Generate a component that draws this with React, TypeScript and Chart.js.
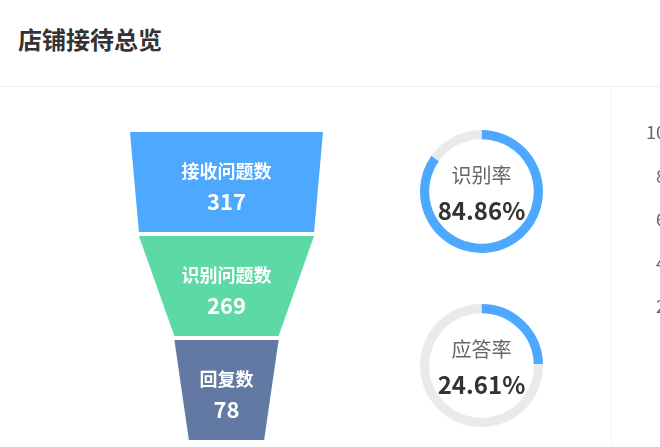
import { useEffect, useRef } from 'react';
import { Chart, registerables } from 'chart.js';

Chart.register(...registerables);

// funnel stages
const stageNames = ['接收问题数', '识别问题数', '回复数'];
const stageValues = [317, 269, 78];
const stageColors = ['#4DA8FF', '#5DD9A6', '#6179A3'];

// rate gauges
const rateNames = ['识别率', '应答率'];
const rateValues = [84.86, 24.61];

// cut-off axis of the neighbouring chart (only these labels show)
const sideMin = 0;
const sideMax = 10;
const sideTicks = [2, 4, 6, 8, 10];

const FONT = '"Noto Sans CJK SC", "Noto Sans", sans-serif';
const MIN_SIZE = 0.39; // funnel width at value 0, as share of full width
const maxStage = Math.max(...stageValues);
const halfWidth = (v: number) => MIN_SIZE + ((1 - MIN_SIZE) * v) / maxStage;

const funnelPlugin = {
  id: 'funnelShapes',
  afterDatasetsDraw(chart: Chart) {
    const { ctx } = chart;
    const xs = chart.scales.x;
    const meta = chart.getDatasetMeta(0);
    meta.data.forEach((bar: any, i: number) => {
      const { y, height } = bar.getProps(['y', 'height'], true);
      const top = y - height / 2;
      const bottom = y + height / 2;
      const th = halfWidth(stageValues[i]);
      const bh = i + 1 < stageValues.length ? halfWidth(stageValues[i + 1]) : MIN_SIZE;
      ctx.save();
      ctx.beginPath();
      ctx.moveTo(xs.getPixelForValue(-th), top);
      ctx.lineTo(xs.getPixelForValue(th), top);
      ctx.lineTo(xs.getPixelForValue(bh), bottom);
      ctx.lineTo(xs.getPixelForValue(-bh), bottom);
      ctx.closePath();
      ctx.fillStyle = stageColors[i];
      ctx.fill();

      const cx = xs.getPixelForValue(0);
      ctx.fillStyle = '#ffffff';
      ctx.textAlign = 'center';
      ctx.textBaseline = 'middle';
      ctx.font = `700 18px ${FONT}`;
      ctx.fillText(stageNames[i], cx, y - 11);
      ctx.font = `700 22px ${FONT}`;
      ctx.fillText(String(stageValues[i]), cx, y + 20);
      ctx.restore();
    });
  },
};

export default function App() {
  const funnelRef = useRef<HTMLCanvasElement>(null);
  const gaugeRefs = [useRef<HTMLCanvasElement>(null), useRef<HTMLCanvasElement>(null)];
  const sideRef = useRef<HTMLCanvasElement>(null);

  useEffect(() => {
    const charts: Chart[] = [];

    charts.push(
      new Chart(funnelRef.current!, {
        type: 'bar',
        data: {
          labels: stageNames,
          datasets: [
            {
              data: stageValues.map((v) => [-halfWidth(v), halfWidth(v)]) as any,
              backgroundColor: 'rgba(0,0,0,0)',
              borderWidth: 0,
              barPercentage: 1,
              categoryPercentage: 100 / 104,
            },
          ],
        },
        options: {
          indexAxis: 'y',
          animation: false,
          responsive: true,
          maintainAspectRatio: false,
          events: [],
          layout: { padding: { left: 30, right: 37, top: 10, bottom: 5 } },
          scales: {
            x: { type: 'linear', min: -1, max: 1, display: false },
            y: { type: 'category', display: false },
          },
          plugins: { legend: { display: false }, tooltip: { enabled: false } },
        },
        plugins: [funnelPlugin],
      })
    );

    rateValues.forEach((v, i) => {
      charts.push(
        new Chart(gaugeRefs[i].current!, {
          type: 'doughnut',
          data: {
            labels: [rateNames[i], ''],
            datasets: [
              {
                data: [v, 100 - v],
                backgroundColor: ['#4DA8FF', '#EAEAEA'],
                borderWidth: 0,
                hoverOffset: 0,
              },
            ],
          },
          options: {
            animation: false,
            responsive: true,
            maintainAspectRatio: false,
            events: [],
            cutout: '85%',
            layout: { padding: 0 },
            plugins: { legend: { display: false }, tooltip: { enabled: false } },
          },
        })
      );
    });

    charts.push(
      new Chart(sideRef.current!, {
        type: 'bar',
        data: { labels: [], datasets: [] },
        options: {
          animation: false,
          responsive: true,
          maintainAspectRatio: false,
          events: [],
          layout: { padding: { top: 46.5, bottom: 97, left: 0, right: 0 } },
          scales: {
            x: { display: false },
            y: {
              min: sideMin,
              max: sideMax,
              afterBuildTicks: (s: any) => {
                s.ticks = sideTicks.map((value) => ({ value }));
              },
              afterFit: (s: any) => {
                s.width = 60;
              },
              ticks: { color: '#666', font: { size: 18, family: FONT }, padding: 6 },
              grid: { drawTicks: false, drawOnChartArea: false },
              border: { display: false },
            },
          },
          plugins: { legend: { display: false }, tooltip: { enabled: false } },
        },
      })
    );

    return () => charts.forEach((c) => c.destroy());
  }, []);

  const gaugeTops = [130, 304];

  return (
    <div
      style={{
        position: 'absolute',
        left: 0,
        top: 0,
        width: 660,
        height: 447,
        overflow: 'hidden',
        background: '#fff',
        fontFamily: FONT,
      }}
    >
      <div
        style={{
          position: 'absolute',
          left: 18,
          top: 27,
          fontSize: 24,
          lineHeight: '24px',
          fontWeight: 700,
          color: '#333',
        }}
      >
        店铺接待总览
      </div>
      <div style={{ position: 'absolute', left: 0, top: 86, width: 660, height: 1, background: '#eeeeee' }} />
      <div style={{ position: 'absolute', left: 611, top: 87, width: 1, height: 360, background: '#f3f3f3' }} />

      <div style={{ position: 'absolute', left: 100, top: 120, width: 260, height: 327 }}>
        <canvas ref={funnelRef} />
      </div>

      {rateNames.map((name, i) => (
        <div
          key={name}
          style={{ position: 'absolute', left: 420, top: gaugeTops[i], width: 123, height: 123 }}
        >
          <canvas ref={gaugeRefs[i]} />
          <div
            style={{
              position: 'absolute',
              left: 0,
              width: 123,
              top: 35,
              textAlign: 'center',
              fontSize: 20,
              lineHeight: '20px',
              color: '#666',
            }}
          >
            {name}
          </div>
          <div
            style={{
              position: 'absolute',
              left: 0,
              width: 123,
              top: 68,
              textAlign: 'center',
              fontSize: 24,
              lineHeight: '24px',
              fontWeight: 700,
              color: '#333',
            }}
          >
            {rateValues[i].toFixed(2)}%
          </div>
        </div>
      ))}

      <div style={{ position: 'absolute', left: 612, top: 86, width: 48, height: 361, overflow: 'hidden' }}>
        <div style={{ position: 'absolute', left: 0, top: 0, width: 200, height: 361 }}>
          <canvas ref={sideRef} />
        </div>
      </div>
    </div>
  );
}
